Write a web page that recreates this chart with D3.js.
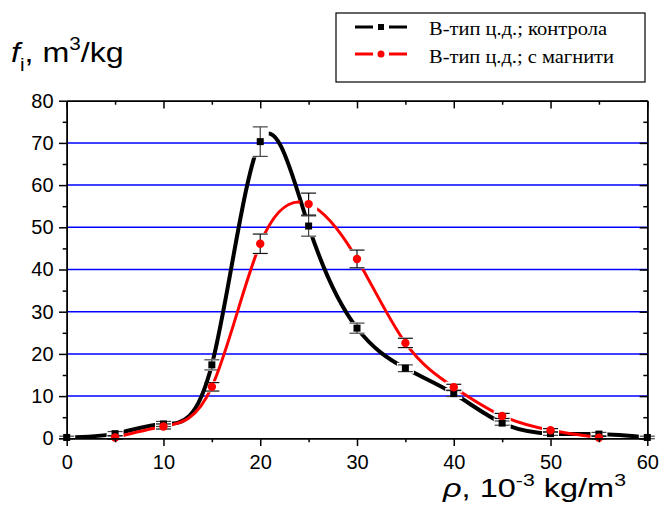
<!DOCTYPE html>
<html>
<head>
<meta charset="utf-8">
<script src="https://cdn.jsdelivr.net/npm/d3@7"></script>
<style>
  body { margin: 0; background: #fff; }
  svg { display: block; }
</style>
</head>
<body>
<svg id="chart" width="660" height="506"></svg>
<script>
// Density fractions f_i for B-type cells: control vs. with magnets
const rho = [0, 5, 10, 15, 20, 25, 30, 35, 40, 45, 50, 55, 60];
const control = [0.2, 1.1, 3.4, 17.4, 70.3, 50.3, 26.1, 16.6, 10.6, 3.6, 1.1, 1.0, 0.2];
const controlErr = [0.3, 0.5, 0.6, 1.2, 3.5, 2.4, 1.2, 0.8, 0.7, 0.5, 0.4, 0.4, 0.3];

const rhoMag = [5, 10, 15, 20, 25, 30, 35, 40, 45, 50, 55];
const magnet = [0.2, 2.8, 12.2, 46.1, 55.5, 42.5, 22.6, 12.1, 5.3, 1.9, 0.15];
const magnetErr = [0.4, 0.6, 1.0, 2.3, 2.6, 2.1, 1.1, 0.7, 0.6, 0.4, 0.3];

const xMajor = [0, 10, 20, 30, 40, 50, 60];
const xMinor = [5, 15, 25, 35, 45, 55];
const yMajor = [0, 10, 20, 30, 40, 50, 60, 70, 80];
const yMinor = [5, 15, 25, 35, 45, 55, 65, 75];
const gridLevels = [10, 20, 30, 40, 50, 60, 70];

const legendLabels = ["В-тип ц.д.; контрола", "В-тип ц.д.; с магнити"];

const svg = d3.select("#chart");
const L = 66.7, R = 647.3, T = 100.7, B = 438.3;
const x = d3.scaleLinear().domain([0, 60]).range([L, R]);
const y = d3.scaleLinear().domain([0, 80]).range([B, T]);

const sans = "Arial, 'Liberation Sans', Helvetica, sans-serif";
const serif = "'Times New Roman', 'Liberation Serif', serif";

// horizontal grid
svg.append("g").selectAll("line").data(gridLevels).join("line")
  .attr("x1", L).attr("x2", R)
  .attr("y1", d => y(d)).attr("y2", d => y(d))
  .attr("stroke", "#0000ff").attr("stroke-width", 1.5);

const series = [
  { id: "ctl", xs: rho, ys: control, err: controlErr, color: "#000", width: 4, errColor: "#444", marker: "square" },
  { id: "mag", xs: rhoMag, ys: magnet, err: magnetErr, color: "#ff0000", width: 3, errColor: "#111", marker: "circle" }
];

const capHalf = 7.5;
const defs = svg.append("defs");

series.forEach(s => {
  const pts = s.xs.map((v, i) => ({ x: v, y: s.ys[i], e: s.err[i] }));

  // the curve is broken around each marker and its error bar
  const mask = defs.append("mask").attr("id", "gap-" + s.id)
    .attr("maskUnits", "userSpaceOnUse")
    .attr("x", 0).attr("y", 0).attr("width", 660).attr("height", 506);
  mask.append("rect").attr("width", 660).attr("height", 506).attr("fill", "#fff");
  mask.selectAll("rect.hole").data(pts).join("rect").attr("class", "hole")
    .attr("x", d => x(d.x) - capHalf - 1)
    .attr("width", 2 * capHalf + 2)
    .attr("y", d => Math.min(y(d.y + d.e), y(d.y) - 4.5) - 1)
    .attr("height", d => Math.max(y(d.y - d.e), y(d.y) + 4.5) - Math.min(y(d.y + d.e), y(d.y) - 4.5) + 2)
    .attr("fill", "#000");

  const line = d3.line().x(d => x(d.x)).y(d => y(d.y)).curve(d3.curveNatural);
  svg.append("path").datum(pts)
    .attr("d", line)
    .attr("fill", "none")
    .attr("stroke", s.color)
    .attr("stroke-width", s.width)
    .attr("mask", "url(#gap-" + s.id + ")");

  // error bars
  const eb = svg.append("g").attr("stroke", s.errColor).attr("stroke-width", 1.2).attr("fill", "none");
  eb.selectAll("line.v").data(pts).join("line").attr("class", "v")
    .attr("x1", d => x(d.x)).attr("x2", d => x(d.x))
    .attr("y1", d => y(d.y + d.e)).attr("y2", d => y(d.y - d.e));
  eb.selectAll("line.t").data(pts).join("line").attr("class", "t")
    .attr("x1", d => x(d.x) - capHalf).attr("x2", d => x(d.x) + capHalf)
    .attr("y1", d => y(d.y + d.e)).attr("y2", d => y(d.y + d.e));
  eb.selectAll("line.b").data(pts).join("line").attr("class", "b")
    .attr("x1", d => x(d.x) - capHalf).attr("x2", d => x(d.x) + capHalf)
    .attr("y1", d => y(d.y - d.e)).attr("y2", d => y(d.y - d.e));

  // markers
  const mg = svg.append("g").attr("fill", s.color);
  if (s.marker === "square") {
    mg.selectAll("rect").data(pts).join("rect")
      .attr("x", d => x(d.x) - 3.5).attr("y", d => y(d.y) - 3.5)
      .attr("width", 7).attr("height", 7);
  } else {
    mg.selectAll("circle").data(pts).join("circle")
      .attr("cx", d => x(d.x)).attr("cy", d => y(d.y)).attr("r", 4.2);
  }
});

// axes
function styleAxis(g) {
  g.select(".domain").attr("stroke", "#000").attr("stroke-width", 1.5);
  g.selectAll(".tick line").attr("stroke", "#000").attr("stroke-width", 1.5);
  g.selectAll("text").attr("font-family", sans).attr("font-size", 20).attr("fill", "#000");
}
const majorLen = 7.7, minorLen = 4;

svg.append("g").attr("transform", `translate(0,${B})`)
  .call(d3.axisBottom(x).tickValues(xMajor).tickSize(majorLen).tickPadding(9).tickSizeOuter(0).tickFormat(d3.format("d")))
  .call(styleAxis);
svg.append("g").attr("transform", `translate(0,${B})`)
  .call(d3.axisBottom(x).tickValues(xMinor).tickSize(minorLen).tickSizeOuter(0).tickFormat(""))
  .call(styleAxis);
svg.append("g").attr("transform", `translate(0,${T})`)
  .call(d3.axisTop(x).tickValues(xMajor).tickSize(-majorLen).tickSizeOuter(0).tickFormat(""))
  .call(styleAxis);
svg.append("g").attr("transform", `translate(0,${T})`)
  .call(d3.axisTop(x).tickValues(xMinor).tickSize(-minorLen).tickSizeOuter(0).tickFormat(""))
  .call(styleAxis);

svg.append("g").attr("transform", `translate(${L},0)`)
  .call(d3.axisLeft(y).tickValues(yMajor).tickSize(majorLen).tickPadding(5.5).tickSizeOuter(0).tickFormat(d3.format("d")))
  .call(styleAxis);
svg.append("g").attr("transform", `translate(${L},0)`)
  .call(d3.axisLeft(y).tickValues(yMinor).tickSize(minorLen).tickSizeOuter(0).tickFormat(""))
  .call(styleAxis);
svg.append("g").attr("transform", `translate(${R},0)`)
  .call(d3.axisRight(y).tickValues(yMajor).tickSize(-majorLen).tickSizeOuter(0).tickFormat(""))
  .call(styleAxis);
svg.append("g").attr("transform", `translate(${R},0)`)
  .call(d3.axisRight(y).tickValues(yMinor).tickSize(-minorLen).tickSizeOuter(0).tickFormat(""))
  .call(styleAxis);

// axis titles
const yTitle = svg.append("text")
  .attr("transform", "translate(11,62) scale(1.15,1)")
  .attr("font-family", sans).attr("font-size", 28).attr("fill", "#000");
yTitle.append("tspan").attr("font-style", "italic").text("f");
yTitle.append("tspan").attr("font-size", 18).attr("dy", 9).text("i");
yTitle.append("tspan").attr("dy", -9).text(", m");
yTitle.append("tspan").attr("font-size", 18).attr("dy", -12).text("3");
yTitle.append("tspan").attr("dy", 12).text("/kg");

const xTitle = svg.append("text")
  .attr("transform", "translate(443,497) scale(1.25,1)")
  .attr("font-family", sans).attr("font-size", 26).attr("fill", "#000");
xTitle.append("tspan").attr("font-style", "italic").text("ρ");
xTitle.append("tspan").text(", 10");
xTitle.append("tspan").attr("font-size", 17).attr("dy", -11).text("-3");
xTitle.append("tspan").attr("dy", 11).text(" kg/m");
xTitle.append("tspan").attr("font-size", 17).attr("dy", -11).text("3");

// legend
const lg = svg.append("g");
lg.append("rect").attr("x", 336).attr("y", 13).attr("width", 309).attr("height", 69)
  .attr("fill", "#fff").attr("stroke", "#000").attr("stroke-width", 1.2);

const legendRows = [
  { label: legendLabels[0], color: "#000", marker: "square", ly: 27, ty: 35, tl: 178 },
  { label: legendLabels[1], color: "#ff0000", marker: "circle", ly: 54, ty: 63, tl: 185 }
];
legendRows.forEach(r => {
  lg.append("line").attr("x1", 355).attr("x2", 373).attr("y1", r.ly).attr("y2", r.ly)
    .attr("stroke", r.color).attr("stroke-width", 3);
  lg.append("line").attr("x1", 389).attr("x2", 407).attr("y1", r.ly).attr("y2", r.ly)
    .attr("stroke", r.color).attr("stroke-width", 3);
  if (r.marker === "square") {
    lg.append("rect").attr("x", 378).attr("y", r.ly - 3).attr("width", 6).attr("height", 6).attr("fill", r.color);
  } else {
    lg.append("circle").attr("cx", 381).attr("cy", r.ly).attr("r", 3.5).attr("fill", r.color);
  }
  lg.append("text").attr("x", 429).attr("y", r.ty)
    .attr("font-family", serif).attr("font-size", 18).attr("fill", "#000")
    .attr("textLength", r.tl).attr("lengthAdjust", "spacingAndGlyphs")
    .text(r.label);
});
</script>
</body>
</html>
